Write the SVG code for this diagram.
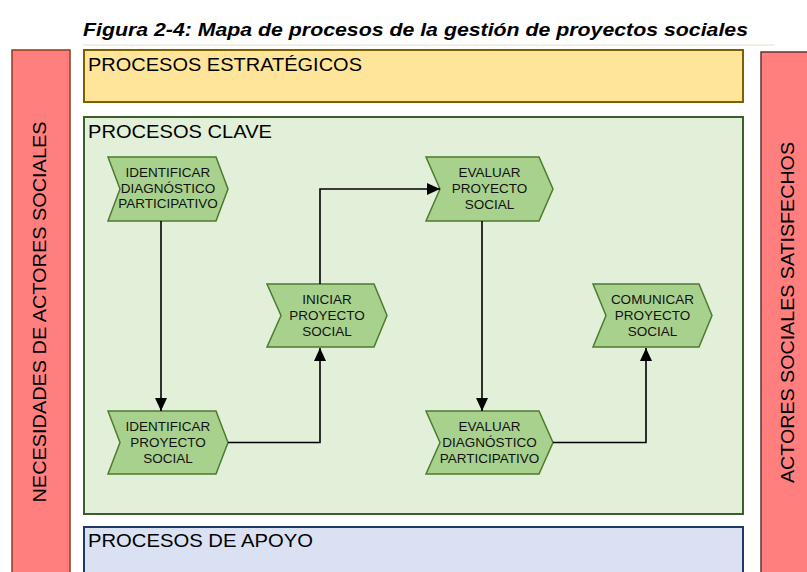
<svg xmlns="http://www.w3.org/2000/svg" width="807" height="572" viewBox="0 0 807 572">
<style>
.bar{fill:#FF7F7F;stroke-width:1.5}
.hdr{font-family:"Liberation Sans",Arial,sans-serif;font-size:18px;fill:#000}
.vt{font-family:"Liberation Sans",Arial,sans-serif;font-size:18px;fill:#000}
.chev{fill:#A9D18E;stroke:#4E7A30;stroke-width:1.5}
.nt{font-family:"Liberation Sans",Arial,sans-serif;font-size:13.5px;fill:#111;text-anchor:middle}
.conn{fill:none;stroke:#000;stroke-width:1.6}
</style>
<defs>
<marker id="ah" markerUnits="userSpaceOnUse" markerWidth="13" markerHeight="12" refX="13" refY="6" orient="auto">
<path d="M0,0 L13,6 L0,12 z" fill="#000"/>
</marker>
</defs>
<rect width="807" height="572" fill="#fff"/>
<text x="83" y="36" font-family="Liberation Sans,Arial,sans-serif" font-size="19" font-weight="bold" font-style="italic" textLength="665" lengthAdjust="spacingAndGlyphs">Figura 2-4: Mapa de procesos de la gestión de proyectos sociales</text>
<line x1="83" y1="45" x2="775" y2="45" stroke="#E6E0CF" stroke-width="1"/>

<g id="necesidades">
<rect class="bar" x="12" y="50" width="58" height="540" stroke="#8B3F1E"/>
<text class="vt" transform="translate(46,312) rotate(-90)" text-anchor="middle" textLength="381" lengthAdjust="spacingAndGlyphs">NECESIDADES DE ACTORES SOCIALES</text>
</g>
<g id="satisfechos">
<rect class="bar" x="761" y="52" width="58" height="540" stroke="#6B3232"/>
<text class="vt" transform="translate(794,312.5) rotate(-90)" text-anchor="middle" textLength="341" lengthAdjust="spacingAndGlyphs">ACTORES SOCIALES SATISFECHOS</text>
</g>
<g id="estrategicos">
<rect x="84" y="50" width="659" height="52" fill="#FFE599" stroke="#7F6000" stroke-width="2"/>
<text class="hdr" x="88" y="71" textLength="274" lengthAdjust="spacingAndGlyphs">PROCESOS ESTRATÉGICOS</text>
</g>
<g id="clave">
<rect x="84" y="117" width="659" height="397" fill="#E2EFD9" stroke="#3B5E2B" stroke-width="2"/>
<text class="hdr" x="88" y="138" textLength="184" lengthAdjust="spacingAndGlyphs">PROCESOS CLAVE</text>
</g>
<g id="apoyo">
<rect x="84" y="527" width="659" height="60" fill="#DAE1F2" stroke="#1F3864" stroke-width="2"/>
<text class="hdr" x="88" y="547" textLength="225" lengthAdjust="spacingAndGlyphs">PROCESOS DE APOYO</text>
</g>

<g id="n1">
<polygon class="chev" points="108,157 216,157 228,189 216,221 108,221 120,189"/>
<text class="nt" x="168" y="177">IDENTIFICAR</text>
<text class="nt" x="168" y="193">DIAGNÓSTICO</text>
<text class="nt" x="168" y="208">PARTICIPATIVO</text>
</g>
<g id="n2">
<polygon class="chev" points="108,411 216,411 228,442.5 216,474 108,474 120,442.5"/>
<text class="nt" x="168" y="431">IDENTIFICAR</text>
<text class="nt" x="168" y="447">PROYECTO</text>
<text class="nt" x="168" y="463">SOCIAL</text>
</g>
<g id="n3">
<polygon class="chev" points="267,284 374,284 387,315.5 374,347 267,347 281,315.5"/>
<text class="nt" x="327" y="304">INICIAR</text>
<text class="nt" x="327" y="320">PROYECTO</text>
<text class="nt" x="327" y="336">SOCIAL</text>
</g>
<g id="n4">
<polygon class="chev" points="426,157 539,157 553,189 539,221 426,221 440,189"/>
<text class="nt" x="489.5" y="177">EVALUAR</text>
<text class="nt" x="489.5" y="193">PROYECTO</text>
<text class="nt" x="489.5" y="209">SOCIAL</text>
</g>
<g id="n5">
<polygon class="chev" points="426,411 539,411 553,442.5 539,474 426,474 440,442.5"/>
<text class="nt" x="489.5" y="431">EVALUAR</text>
<text class="nt" x="489.5" y="447">DIAGNÓSTICO</text>
<text class="nt" x="489.5" y="463">PARTICIPATIVO</text>
</g>
<g id="n6">
<polygon class="chev" points="593,284 699,284 712,315.5 699,347 593,347 606,315.5"/>
<text class="nt" x="652.5" y="304">COMUNICAR</text>
<text class="nt" x="652.5" y="320">PROYECTO</text>
<text class="nt" x="652.5" y="336">SOCIAL</text>
</g>

<g id="connectors">
<path class="conn" d="M161,221 L161,411" marker-end="url(#ah)"/>
<path class="conn" d="M228,442.5 L320,442.5 L320,348" marker-end="url(#ah)"/>
<path class="conn" d="M320,284 L320,189 L440,189" marker-end="url(#ah)"/>
<path class="conn" d="M482,221 L482,411" marker-end="url(#ah)"/>
<path class="conn" d="M553,442.5 L646,442.5 L646,348" marker-end="url(#ah)"/>
</g>
</svg>
